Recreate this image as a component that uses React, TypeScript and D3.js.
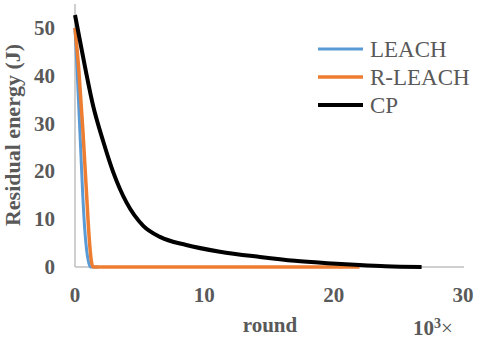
import React, { useEffect, useRef } from "react";
import * as d3 from "d3";

// rounds in thousands
const leachX = [0, 0.15, 0.3, 0.45, 0.6, 0.75, 0.9, 1.05, 1.2, 1.8];
const leachY = [50, 42, 33, 24, 15, 8, 3.5, 1, 0, 0];
const rleachX = [0, 0.3, 0.6, 0.9, 1.1, 1.25, 1.4, 22];
const rleachY = [50, 41, 29, 15, 6, 1.5, 0, 0];
const cpX = [0, 0.77, 1.42, 2.19, 2.96, 4.0, 5.28, 6.57, 8.6, 11.2, 14.3, 17, 19.5, 22, 24, 26.8];
const cpY = [52.7, 41.9, 33.5, 26.2, 19.8, 13.4, 8.6, 6.3, 4.6, 3.2, 2.1, 1.3, 0.8, 0.4, 0.15, 0];

const seriesNames = ["LEACH", "R-LEACH", "CP"];
const seriesColors = ["#5B9BD5", "#ED7D31", "#000000"];
const xTicks = [0, 10, 20, 30];
const yTicks = [0, 10, 20, 30, 40, 50];

const FONT = '"Liberation Serif", "Times New Roman", serif';

const App = () => {
  const ref = useRef<SVGSVGElement>(null);

  useEffect(() => {
    document.body.style.margin = "0";
    const svg = d3.select(ref.current);
    svg.selectAll("*").remove();

    const x = d3.scaleLinear().domain([0, 30]).range([75, 463]);
    const y = d3.scaleLinear().domain([0, 55]).range([267, 4]);

    // axes lines
    svg.append("line")
      .attr("x1", x(0)).attr("x2", x(30) + 1)
      .attr("y1", y(0)).attr("y2", y(0))
      .attr("stroke", "#BFBFBF").attr("stroke-width", 1.5);
    svg.append("line")
      .attr("x1", x(0)).attr("x2", x(0))
      .attr("y1", y(55)).attr("y2", y(0))
      .attr("stroke", "#BFBFBF").attr("stroke-width", 1.5);

    // tick labels
    svg.selectAll(".yt").data(yTicks).enter().append("text")
      .attr("x", 55).attr("y", d => y(d) + 7)
      .attr("text-anchor", "end")
      .attr("font-family", FONT).attr("font-size", 21).attr("font-weight", "bold")
      .attr("fill", "#595959")
      .text(d => d);
    svg.selectAll(".xt").data(xTicks).enter().append("text")
      .attr("x", d => x(d)).attr("y", 302)
      .attr("text-anchor", "middle")
      .attr("font-family", FONT).attr("font-size", 21).attr("font-weight", "bold")
      .attr("fill", "#595959")
      .text(d => d);

    // titles
    svg.append("text")
      .attr("transform", "translate(20,135) rotate(-90)")
      .attr("text-anchor", "middle")
      .attr("font-family", FONT).attr("font-size", 22).attr("font-weight", "bold")
      .attr("fill", "#595959")
      .text("Residual energy (J)");
    svg.append("text")
      .attr("x", 270).attr("y", 332)
      .attr("text-anchor", "middle")
      .attr("font-family", FONT).attr("font-size", 21).attr("font-weight", "bold")
      .attr("fill", "#595959")
      .text("round");
    const unit = svg.append("text")
      .attr("x", 413).attr("y", 335)
      .attr("font-family", FONT).attr("font-size", 21).attr("font-weight", "bold")
      .attr("fill", "#595959");
    unit.append("tspan").text("10");
    unit.append("tspan").attr("font-size", 14).attr("dy", -7).text("3");
    unit.append("tspan").attr("font-weight", "normal").attr("dy", 7).text("×");

    // series
    const data = [
      leachX.map((v, i) => [v, leachY[i]]),
      rleachX.map((v, i) => [v, rleachY[i]]),
      cpX.map((v, i) => [v, cpY[i]]),
    ];
    const widths = [3, 3.5, 4];
    const line = d3.line<number[]>()
      .x(d => x(d[0]))
      .y(d => y(d[1]))
      .curve(d3.curveMonotoneX);
    data.forEach((pts, i) => {
      svg.append("path")
        .attr("d", line(pts))
        .attr("fill", "none")
        .attr("stroke", seriesColors[i])
        .attr("stroke-width", widths[i])
        .attr("stroke-linejoin", "round");
    });

    // legend
    seriesNames.forEach((name, i) => {
      const ly = 49 + i * 28;
      svg.append("line")
        .attr("x1", 318).attr("x2", 363)
        .attr("y1", ly).attr("y2", ly)
        .attr("stroke", seriesColors[i]).attr("stroke-width", widths[i]);
      svg.append("text")
        .attr("x", 370).attr("y", ly + 8)
        .attr("font-family", FONT).attr("font-size", 23)
        .attr("fill", "#595959")
        .text(name);
    });
  }, []);

  return <svg ref={ref} width={480} height={341} style={{ display: "block", background: "#fff" }} />;
};

export default App;
